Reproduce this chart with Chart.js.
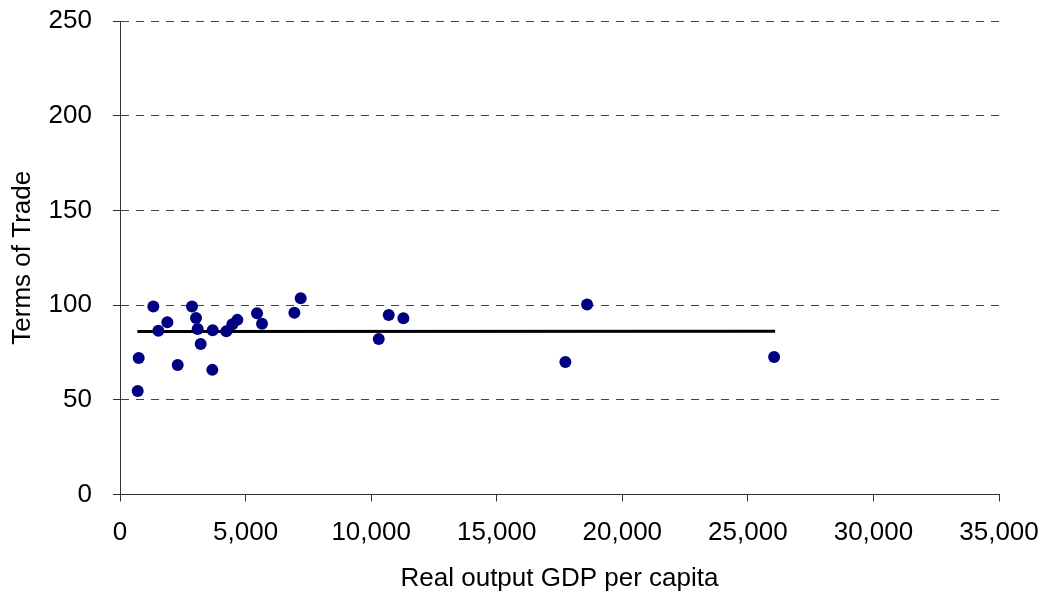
<!DOCTYPE html>
<html>
<head>
<meta charset="utf-8">
<script src="https://cdn.jsdelivr.net/npm/chart.js@4"></script>
<style>
  html, body { margin: 0; padding: 0; background: #fff; }
  #wrap { width: 1048px; height: 597px; position: relative; }
</style>
</head>
<body>
<div id="wrap"><canvas id="totChart"></canvas></div>
<script>
// Real output GDP per capita vs terms of trade
const gdpPerCapita = [705, 745, 1327, 1527, 1885, 2297, 2867, 3027, 3093, 3212, 3690, 3677,
    4235, 4474, 4673, 5456, 5655, 6943, 7195, 10302, 10700, 11284, 17735, 18598, 26045];
const termsOfTrade = [54.7, 72.1, 99.2, 86.4, 91.0, 68.4, 99.2, 93.2, 87.4, 79.5, 86.7, 65.8,
    86.2, 89.9, 92.2, 95.7, 90.1, 96.0, 103.6, 82.1, 94.8, 93.1, 70.0, 100.3, 72.6];

// Trend line end points
const trendX = [690, 26085];
const trendY = [86.0, 86.2];

// Tick labels
const xTicks = [0, 5000, 10000, 15000, 20000, 25000, 30000, 35000];
const yTicks = [0, 50, 100, 150, 200, 250];

const FONT = "'Liberation Sans', Arial, sans-serif";
const axisColor = '#333';

const scatterPoints = gdpPerCapita.map((x, i) => ({ x: x, y: termsOfTrade[i] }));
const trendPoints = trendX.map((x, i) => ({ x: x, y: trendY[i] }));

const ctx = document.getElementById('totChart').getContext('2d');
const totChart = new Chart(ctx, {
    type: 'scatter',
    data: {
        datasets: [{
            label: 'Countries',
            data: scatterPoints,
            backgroundColor: '#000080',
            borderColor: '#000080',
            borderWidth: 0,
            pointRadius: 6,
            order: 1
        }, {
            type: 'line',
            label: 'Trend',
            data: trendPoints,
            borderColor: '#000',
            borderWidth: 3,
            pointRadius: 0,
            fill: false,
            order: 2
        }]
    },
    options: {
        responsive: true,
        maintainAspectRatio: false,
        devicePixelRatio: 1,
        animation: false,
        layout: {
            padding: { top: 21, right: 49, left: 0, bottom: 0 }
        },
        plugins: {
            legend: { display: false },
            tooltip: { enabled: false }
        },
        scales: {
            x: {
                type: 'linear',
                min: 0,
                max: 35000,
                afterBuildTicks: scale => { scale.ticks = xTicks.map(v => ({ value: v })); },
                afterFit: scale => {
                    scale.height = 102.5;
                    scale.paddingLeft = 0;
                    scale.paddingRight = 0;
                },
                ticks: {
                    color: '#000',
                    padding: 16,
                    maxRotation: 0,
                    font: { family: FONT, size: 26 },
                    callback: v => v.toLocaleString('en-US')
                },
                grid: {
                    drawOnChartArea: false,
                    drawTicks: true,
                    tickLength: 7,
                    tickColor: axisColor
                },
                border: { display: true, color: axisColor, width: 1 },
                title: {
                    display: true,
                    text: 'Real output GDP per capita',
                    color: '#000',
                    font: { family: FONT, size: 26 },
                    padding: { top: 0, bottom: 3 }
                }
            },
            y: {
                type: 'linear',
                min: 0,
                max: 250,
                afterBuildTicks: scale => { scale.ticks = yTicks.map(v => ({ value: v })); },
                afterFit: scale => {
                    scale.width = 120;
                    scale.paddingTop = 0;
                    scale.paddingBottom = 0;
                },
                ticks: {
                    color: '#000',
                    padding: 21,
                    font: { family: FONT, size: 26 }
                },
                grid: {
                    color: c => (c.tick && c.tick.value === 0) ? 'rgba(0,0,0,0)' : '#444',
                    lineWidth: 1,
                    drawTicks: true,
                    tickLength: 7,
                    tickColor: axisColor
                },
                border: { display: true, color: axisColor, width: 1, dash: [8, 7] },
                title: {
                    display: true,
                    text: 'Terms of Trade',
                    color: '#000',
                    font: { family: FONT, size: 26 },
                    padding: { top: 7, bottom: 0 }
                }
            }
        }
    }
});
</script>
</body>
</html>
